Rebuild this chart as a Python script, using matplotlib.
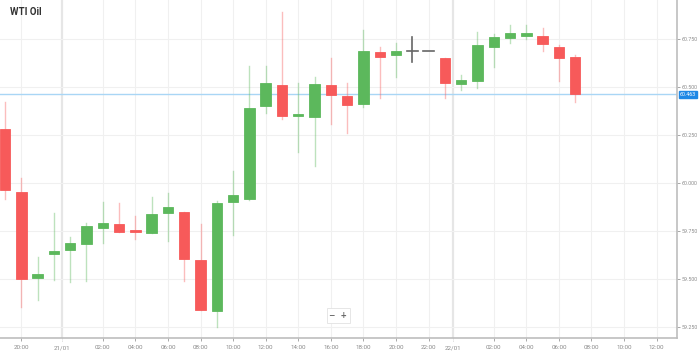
import numpy as np
import matplotlib.pyplot as plt

plt.rcParams['font.family'] = ['Roboto', 'DejaVu Sans']

# hourly candles (index space, trading breaks removed)
opens = [60.283, 59.955, 59.505, 59.630, 59.653, 59.682, 59.767, 59.786, 59.755, 59.738,
         59.842, 59.847, 59.599, 59.332, 59.901, 59.917, 60.399, 60.510, 60.350, 60.344,
         60.510, 60.452, 60.413, 60.681, 60.668, 60.689, 60.689, 60.649, 60.516, 60.531,
         60.708, 60.755, 60.764, 60.766, 60.710, 60.655]
highs = [60.423, 60.026, 59.615, 59.844, 59.720, 59.792, 59.903, 59.896, 59.828, 59.926,
         59.946, 59.851, 59.786, 59.908, 60.064, 60.611, 60.611, 60.889, 60.522, 60.551,
         60.650, 60.519, 60.798, 60.708, 60.729, 60.759, 60.689, 60.649, 60.561, 60.788,
         60.778, 60.821, 60.821, 60.807, 60.720, 60.665]
lows = [59.917, 59.354, 59.391, 59.495, 59.486, 59.490, 59.689, 59.746, 59.710, 59.738,
        59.700, 59.491, 59.339, 59.252, 59.728, 59.911, 60.363, 60.333, 60.160, 60.087,
        60.306, 60.262, 60.394, 60.443, 60.554, 60.632, 60.689, 60.444, 60.484, 60.493,
        60.603, 60.731, 60.752, 60.688, 60.531, 60.423]
closes = [59.964, 59.500, 59.526, 59.647, 59.689, 59.778, 59.792, 59.746, 59.746, 59.837,
          59.877, 59.604, 59.339, 59.896, 59.938, 60.392, 60.521, 60.347, 60.359, 60.516,
          60.458, 60.408, 60.689, 60.658, 60.686, 60.689, 60.689, 60.522, 60.536, 60.720,
          60.759, 60.780, 60.780, 60.722, 60.649, 60.463]
last_price = 60.463

time_pos = [1, 6, 8, 10, 12, 14, 16, 18, 20, 22, 24, 26, 30, 32, 34, 36, 38, 40]
time_labels = ['20:00', '02:00', '04:00', '06:00', '08:00', '10:00', '12:00', '14:00', '16:00',
               '18:00', '20:00', '22:00', '02:00', '04:00', '06:00', '08:00', '10:00', '12:00']
day_pos = [3.5, 27.5]
day_labels = ['21/01', '22/01']
yticks = [59.25, 59.5, 59.75, 60.0, 60.25, 60.5, 60.75]

green = '#5cb85c'
red = '#f75a5a'
grey = '#666666'

fig = plt.figure(figsize=(6.99, 3.58), dpi=100)
ax = fig.add_axes([0, 20/358, 677/699, 338/358])

ax.set_xlim(-0.31, 41.25)
ax.set_ylim(59.193, 60.953)

# grid
for x in time_pos:
    ax.axvline(x, color='#f0f0f0', lw=0.8, zorder=0)
for x in day_pos:
    ax.axvline(x, color='#e6e6e6', lw=1.6, zorder=0)
for y in yticks:
    ax.axhline(y, color='#f0f0f0', lw=0.8, zorder=0)

w = 0.64
for i in range(len(opens)):
    o, h, l, c = opens[i], highs[i], lows[i], closes[i]
    if c > o:
        col = green
    elif c < o:
        col = red
    else:
        col = grey
    if col == grey:
        ax.plot([i, i], [l, h], color=grey, lw=1.2, zorder=2)
        ax.plot([i - w/2, i + w/2], [o, o], color=grey, lw=1.2, zorder=2)
        continue
    ax.plot([i, i], [l, h], color=col, lw=1.0, alpha=0.4, zorder=2)
    lo, hi = min(o, c), max(o, c)
    hgt = max(hi - lo, 0.004)
    ax.add_patch(plt.Rectangle((i - w/2, lo), w, hgt, facecolor=col,
                               edgecolor=col, lw=0.6, zorder=3))

# current price line
ax.axhline(last_price, color='#a9d6f5', lw=1.0, zorder=1)

ax.spines['top'].set_visible(False)
ax.spines['left'].set_visible(False)
ax.spines['right'].set_color('#bdbdbd')
ax.spines['bottom'].set_color('#bdbdbd')
ax.spines['right'].set_linewidth(1.2)
ax.spines['bottom'].set_linewidth(1.2)

ax.yaxis.tick_right()
ax.set_yticks(yticks)
ax.set_yticklabels(['%.3f' % v for v in yticks])
ax.tick_params(axis='y', colors='#9a9a9a', labelsize=3.8, length=2, width=0.6, pad=1,
               labelcolor='#8a8a8a')
ax.set_xticks(time_pos)
ax.set_xticklabels(time_labels)
ax.tick_params(axis='x', colors='#9a9a9a', labelsize=4.5, length=2, width=0.6, pad=3,
               labelcolor='#8a8a8a')

for x, lab in zip(day_pos, day_labels):
    ax.plot([x, x], [59.193, 59.175], color='#bbbbbb', lw=0.6, ls=':', clip_on=False)
    ax.text(x, 59.140, lab, ha='center', va='center', fontsize=4.5, color='#8a8a8a',
            clip_on=False)

# price label box
ax.text(1.004, last_price, '60.463', transform=ax.get_yaxis_transform(), ha='left',
        va='center', fontsize=3.8, color='white', clip_on=False,
        bbox=dict(boxstyle='square,pad=0.2', fc='#1e88e5', ec='#1e88e5'))

# zoom buttons
ax.text(20.45, 59.31, '\u2212  +', ha='center', va='center', fontsize=5.5, color='#666666',
        family='DejaVu Sans', fontweight='bold',
        bbox=dict(boxstyle='square,pad=0.35', fc='white', ec='#e2e2e2', lw=0.6))

fig.text(10/699, 1 - 12/358, 'WTI Oil', fontsize=7, fontweight='bold', color='#333333',
         ha='left', va='center')

fig.savefig('out.png', dpi=100)
